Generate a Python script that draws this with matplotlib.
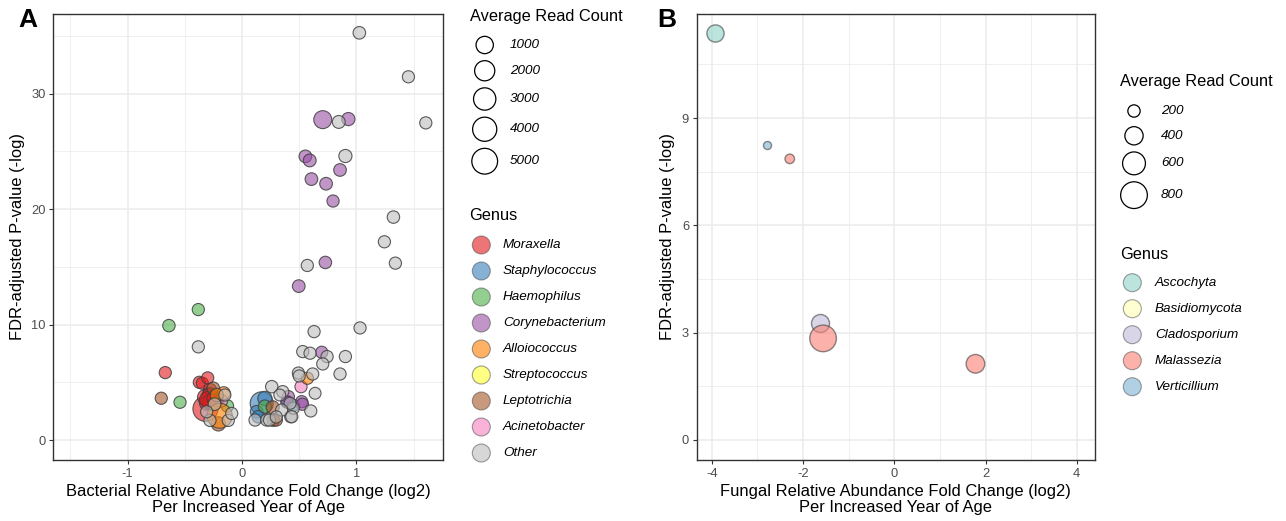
import numpy as np
import matplotlib
matplotlib.use("Agg")
import matplotlib.pyplot as plt
from matplotlib.ticker import MultipleLocator

plt.rcParams['font.family'] = ['Liberation Sans', 'DejaVu Sans']
plt.rcParams['axes.unicode_minus'] = False

# ---------------- Panel A data (bacteria) ----------------
bact_genera = ["Moraxella", "Staphylococcus", "Haemophilus", "Corynebacterium",
               "Alloiococcus", "Streptococcus", "Leptotrichia", "Acinetobacter", "Other"]
bact_colors = ["#E41A1C", "#377EB8", "#4DAF4A", "#984EA3",
               "#FF7F00", "#FFFF33", "#A65628", "#F781BF", "#BDBDBD"]
draw_order = ["Moraxella", "Staphylococcus", "Haemophilus", "Corynebacterium",
              "Leptotrichia", "Acinetobacter", "Streptococcus", "Alloiococcus", "Other"]

bact_fc = [
    # Moraxella
    -0.671, -0.373, -0.347, -0.300, -0.280, -0.320, -0.270, -0.250, -0.290, -0.220,
    -0.320, -0.280, -0.260, -0.310, -0.270, -0.300, -0.240,
    # Staphylococcus
    0.172, 0.128, 0.143, 0.200, 0.400, 0.450,
    # Haemophilus
    -0.382, -0.639, -0.542, -0.128, 0.200,
    # Corynebacterium
    0.706, 0.930, 0.554, 0.592, 0.857, 0.607, 0.735, 0.796, 0.729, 0.496,
    0.697, 0.405, 0.522, 0.528, 0.390, -0.240,
    # Alloiococcus
    0.572, -0.160, -0.220, -0.195, -0.207,
    # Leptotrichia
    -0.706, -0.251, 0.268, 0.274, 0.300, -0.180,
    # Acinetobacter
    0.516, -0.240,
    # Other
    1.026, 1.455, 1.607, 0.846, 0.904, 1.324, 1.245, 1.341, 0.571, 1.032,
    0.630, -0.382, 0.531, 0.595, 0.744, 0.904, 0.706, 0.493, 0.500, 0.618,
    0.857, 0.260, 0.356, 0.639, 0.601, 0.426, 0.449, 0.420, 0.347, 0.114,
    0.216, 0.240, 0.435, -0.280, -0.120, -0.090, -0.150, -0.309, 0.330, 0.300,
    0.380,
]
bact_p = [
    5.84, 5.00, 4.92, 5.38, 4.34, 2.70, 3.60, 3.30, 3.90, 3.50,
    3.70, 3.90, 3.40, 3.20, 3.30, 3.50, 3.60,
    3.18, 2.45, 2.02, 3.60, 3.30, 3.00,
    11.30, 9.91, 3.27, 2.95, 2.90,
    27.75, 27.80, 24.57, 24.22, 23.39, 22.60, 22.20, 20.70, 15.38, 13.33,
    7.60, 3.76, 3.32, 3.10, 3.30, 3.15,
    5.35, 4.05, 3.90, 2.10, 1.40,
    3.62, 4.48, 2.83, 1.73, 1.73, 3.40,
    4.62, 3.10,
    35.27, 31.46, 27.47, 27.55, 24.60, 19.31, 17.17, 15.32, 15.12, 9.71,
    9.39, 8.07, 7.66, 7.52, 7.23, 7.23, 6.59, 5.80, 5.55, 5.72,
    5.72, 4.62, 4.19, 4.05, 2.52, 2.02, 2.75, 3.18, 2.60, 1.73,
    1.73, 1.73, 2.02, 1.70, 1.70, 2.30, 3.90, 2.45, 3.90, 2.00,
    1.90,
]
bact_reads = [
    60, 60, 60, 60, 150, 4500, 400, 300, 200, 150,
    600, 400, 500, 300, 800, 700, 500,
    3350, 100, 100, 300, 60, 60,
    60, 80, 60, 80, 150,
    1200, 150, 100, 120, 100, 100, 100, 60, 80, 100,
    60, 60, 60, 60, 40, 100,
    60, 150, 150, 4500, 300,
    60, 100, 150, 100, 60, 100,
    60, 100,
    90, 60, 60, 120, 150, 80, 60, 60, 60, 60,
    60, 60, 60, 60, 60, 60, 60, 60, 60, 60,
    60, 80, 60, 40, 60, 60, 50, 50, 60, 60,
    60, 60, 60, 60, 60, 60, 60, 60, 40, 60,
    40,
]
bact_genus = (["Moraxella"] * 17 + ["Staphylococcus"] * 6 + ["Haemophilus"] * 5 +
              ["Corynebacterium"] * 15 + ["Alloiococcus"] * 5 + ["Leptotrichia"] * 6 +
              ["Acinetobacter"] * 2 + ["Other"] * 41)
bact_size_breaks = [1000, 2000, 3000, 4000, 5000]

# ---------------- Panel B data (fungi) ----------------
fung_genera = ["Ascochyta", "Basidiomycota", "Cladosporium", "Malassezia", "Verticillium"]
fung_colors = ["#8DD3C7", "#FFFFB3", "#BEBADA", "#FB8072", "#80B1D3"]
fung_fc = [-3.93, -2.79, -2.29, -1.63, -1.56, 1.78]
fung_p = [11.37, 8.24, 7.86, 3.28, 2.84, 2.13]
fung_reads = [360, 100, 130, 390, 795, 415]
fung_genus = ["Ascochyta", "Verticillium", "Malassezia",
              "Cladosporium", "Malassezia", "Malassezia"]
fung_size_breaks = [200, 400, 600, 800]

ALPHA = 0.6
PX2PT = 72.0 / 100.0


def size_a(v):
    d = 10.5 + 0.216 * np.sqrt(np.asarray(v, dtype=float))
    return (d * PX2PT) ** 2


def size_b(v):
    d = -2.1 + 1.019 * np.sqrt(np.asarray(v, dtype=float))
    return (d * PX2PT) ** 2


def rgba(c, a):
    r, g, b, _ = matplotlib.colors.to_rgba(c)
    return (r, g, b, a)


fig = plt.figure(figsize=(12.86, 5.21), dpi=100)
W, H = 1286.0, 521.0

axA = fig.add_axes([53.3 / W, 1 - 460 / H, 390 / W, 446 / H])
axB = fig.add_axes([696.7 / W, 1 - 460 / H, 398.3 / W, 446 / H])


def style(ax, xlim, ylim, xmaj, xmin, ymaj, ymin):
    ax.set_xlim(*xlim)
    ax.set_ylim(*ylim)
    ax.xaxis.set_major_locator(MultipleLocator(xmaj))
    ax.xaxis.set_minor_locator(MultipleLocator(xmin))
    ax.yaxis.set_major_locator(MultipleLocator(ymaj))
    ax.yaxis.set_minor_locator(MultipleLocator(ymin))
    ax.grid(which='major', color='#EBEBEB', lw=1.1, zorder=0)
    ax.grid(which='minor', color='#EBEBEB', lw=0.55, zorder=0)
    ax.set_axisbelow(True)
    ax.tick_params(which='major', length=3, width=0.8, color='#333333',
                   labelcolor='#4D4D4D', labelsize=9.3, pad=2.5)
    ax.tick_params(which='minor', length=0)
    for s in ax.spines.values():
        s.set_color('#333333')
        s.set_linewidth(1.0)


style(axA, (-1.65, 1.76), (-1.73, 36.9), 1, 0.5, 10, 5)
style(axB, (-4.33, 4.40), (-0.56, 11.91), 2, 1, 3, 1.5)

EDGE = rgba('#404040', 0.85)

cmapA = dict(zip(bact_genera, bact_colors))
for g in draw_order:
    idx = [i for i, gg in enumerate(bact_genus) if gg == g]
    if not idx:
        continue
    axA.scatter([bact_fc[i] for i in idx], [bact_p[i] for i in idx],
                s=size_a([bact_reads[i] for i in idx]),
                facecolor=rgba(cmapA[g], ALPHA), edgecolor=EDGE,
                linewidth=0.8, zorder=3)

cmapB = dict(zip(fung_genera, fung_colors))
for g in fung_genera:
    idx = [i for i, gg in enumerate(fung_genus) if gg == g]
    if not idx:
        continue
    axB.scatter([fung_fc[i] for i in idx], [fung_p[i] for i in idx],
                s=size_b([fung_reads[i] for i in idx]),
                facecolor=rgba(cmapB[g], ALPHA), edgecolor=rgba('#404040', 0.6),
                linewidth=1.0, zorder=3)

lab_fs = 11.9
axA.set_xlabel("Bacterial Relative Abundance Fold Change (log2)\nPer Increased Year of Age",
               fontsize=lab_fs, linespacing=1.1)
axA.set_ylabel("FDR-adjusted P-value (-log)", fontsize=lab_fs)
axB.set_xlabel("Fungal Relative Abundance Fold Change (log2)\nPer Increased Year of Age",
               fontsize=lab_fs, linespacing=1.1)
axB.set_ylabel("FDR-adjusted P-value (-log)", fontsize=lab_fs)
axA.xaxis.set_label_coords(0.5, -0.053)
axB.xaxis.set_label_coords(0.5, -0.053)
axA.yaxis.set_label_coords(-0.073, 0.5)
axB.yaxis.set_label_coords(-0.055, 0.5)

# ---------------- legends (overlay in pixel coordinates) ----------------
lg = fig.add_axes([0, 0, 1, 1], zorder=5)
lg.set_xlim(0, W)
lg.set_ylim(H, 0)
lg.axis('off')


def size_legend(x_title, y_title, x_circ, x_lab, y_first, breaks, sfun):
    lg.text(x_title, y_title, "Average Read Count", fontsize=11.8, va='center', ha='left')
    d = np.sqrt(sfun(breaks)) / PX2PT
    keys = np.maximum(d, 17.3)
    ys = [y_first]
    for i in range(1, len(breaks)):
        ys.append(ys[-1] + keys[i - 1] / 2 + keys[i] / 2 + 7)
    lg.scatter([x_circ] * len(breaks), ys, s=sfun(breaks), facecolor='white',
               edgecolor='black', linewidth=0.9)
    for y, b in zip(ys, breaks):
        lg.text(x_lab, y, str(b), fontsize=9.7, style='italic', va='center', ha='left')


def genus_legend(x_title, y_title, x_circ, x_lab, y_first, genera, colors):
    lg.text(x_title, y_title, "Genus", fontsize=11.8, va='center', ha='left')
    ys = [y_first + 26 * i for i in range(len(genera))]
    lg.scatter([x_circ] * len(genera), ys, s=(18 * PX2PT) ** 2,
               facecolor=[rgba(c, ALPHA) for c in colors],
               edgecolor=rgba('#404040', 0.5), linewidth=0.8)
    for y, g in zip(ys, genera):
        lg.text(x_lab, y, g, fontsize=9.7, style='italic', va='center', ha='left')


size_legend(469.5, 16, 484.7, 510, 45, bact_size_breaks, size_a)
genus_legend(469.5, 216, 481.3, 503, 245, bact_genera, bact_colors)
size_legend(1120.5, 81.7, 1134, 1161, 111, fung_size_breaks, size_b)
genus_legend(1120.5, 254.3, 1132.3, 1155, 282.7, fung_genera, fung_colors)

# panel letters
lg.text(27.5, 20, "A", fontsize=19, fontweight='bold', ha='center', va='center')
lg.text(667, 20, "B", fontsize=19, fontweight='bold', ha='center', va='center')

fig.savefig("out.png", dpi=100)
